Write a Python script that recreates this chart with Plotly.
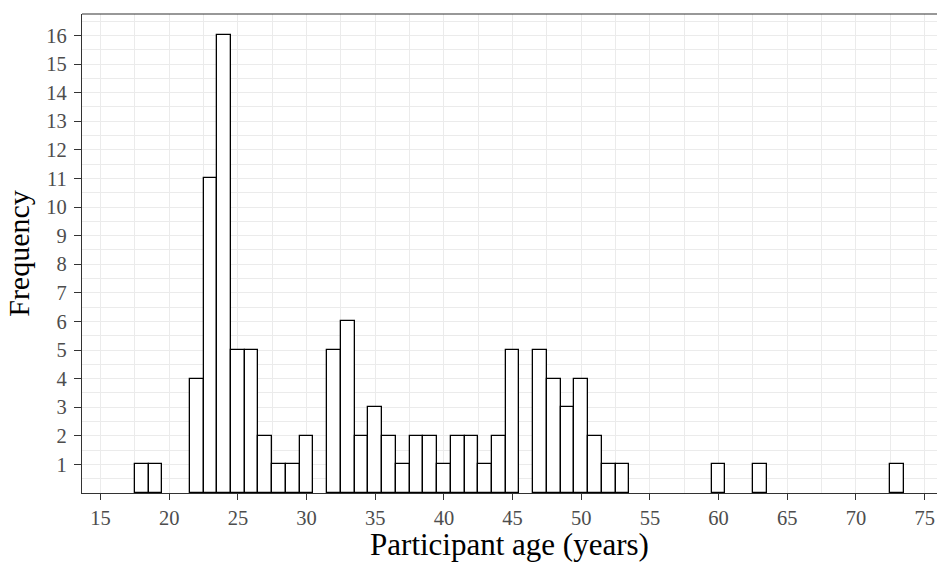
import plotly.graph_objects as go

ages = [18, 19, 22, 23, 24, 25, 26, 27, 28, 29, 30, 32, 33, 34, 35, 36, 37, 38, 39,
        40, 41, 42, 43, 44, 45, 47, 48, 49, 50, 51, 52, 53, 60, 63, 73]
counts = [1, 1, 4, 11, 16, 5, 5, 2, 1, 1, 2, 5, 6, 2, 3, 2, 1, 2, 2,
          1, 2, 2, 1, 2, 5, 5, 4, 3, 4, 2, 1, 1, 1, 1, 1]
x_ticks = list(range(15, 80, 5))
y_ticks = list(range(1, 17))

FONT = "Liberation Serif"
GRID = "#EBEBEB"
AX = "#333333"

fig = go.Figure(go.Bar(
    x=ages, y=counts, width=1,
    marker=dict(color="white", line=dict(color="black", width=1.3)),
))

fig.update_layout(
    width=937, height=562,
    margin=dict(l=82, r=0, t=14, b=69),
    plot_bgcolor="white", paper_bgcolor="white",
    showlegend=False, bargap=0,
    font=dict(family=FONT, color="#4D4D4D", size=20.5),
    xaxis=dict(
        range=[13.65, 75.9], tickmode="array", tickvals=x_ticks,
        ticktext=[str(v) for v in x_ticks],
        showgrid=True, gridcolor=GRID, gridwidth=1.3,
        minor=dict(tickmode="array", tickvals=[v + 2.5 for v in range(10, 80, 5)],
                   showgrid=True, gridcolor=GRID, gridwidth=0.8, ticks=""),
        showline=True, linecolor=AX, linewidth=1.2,
        ticks="outside", ticklen=6, tickwidth=1.2, tickcolor=AX,
        ticklabelstandoff=0,
        zeroline=False, automargin=False,
        title=dict(text="Participant age (years)", font=dict(family=FONT, size=31, color="black"), standoff=5),
    ),
    yaxis=dict(
        range=[0, 16.75], tickmode="array", tickvals=y_ticks,
        ticktext=[str(v) for v in y_ticks],
        showgrid=True, gridcolor=GRID, gridwidth=1.3,
        minor=dict(tickmode="array", tickvals=[v + 0.5 for v in range(0, 17)],
                   showgrid=True, gridcolor=GRID, gridwidth=0.8, ticks=""),
        showline=True, linecolor=AX, linewidth=1.2,
        ticks="outside", ticklen=7, tickwidth=1.2, tickcolor=AX,
        ticklabelstandoff=3,
        zeroline=False, automargin=False,
        title=dict(text="Frequency", font=dict(family=FONT, size=30, color="black"), standoff=7),
    ),
    shapes=[dict(type="line", xref="paper", yref="paper", x0=0, x1=1, y0=1, y1=1,
                 line=dict(color=AX, width=1.2))],
)

fig.write_html("out.html", config={"displayModeBar": False},
               post_script="document.body.style.margin='0';document.body.style.overflow='hidden';")
